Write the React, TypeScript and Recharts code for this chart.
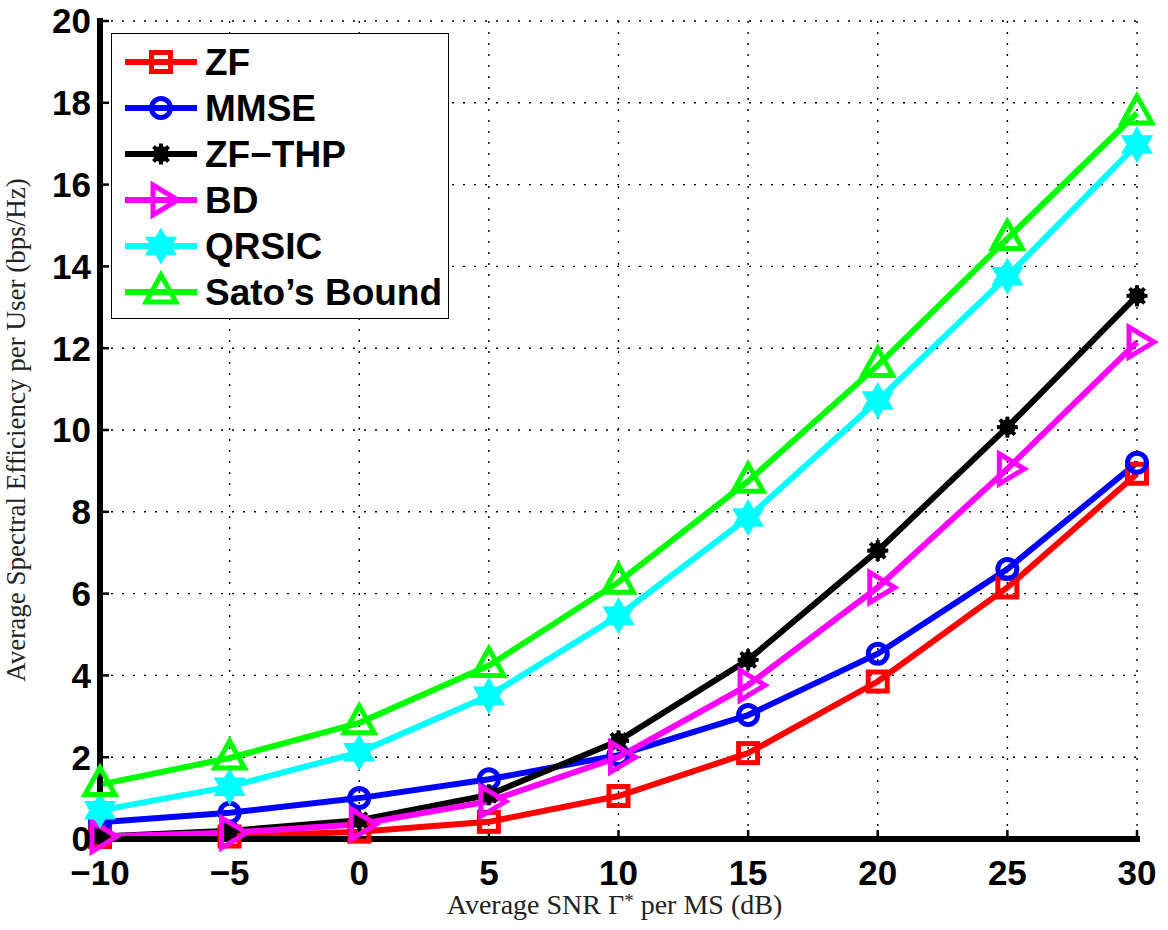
import React from "react";
import {
  LineChart, Line, XAxis, YAxis, CartesianGrid, Legend, Label,
} from "recharts";

// SNR points (dB)
const snr = [-10, -5, 0, 5, 10, 15, 20, 25, 30];

// spectral efficiency per user (bps/Hz)
const zf = [0.05, 0.06, 0.18, 0.42, 1.05, 2.1, 3.85, 6.15, 8.93];
const mmse = [0.41, 0.64, 1.0, 1.46, 2.05, 3.03, 4.53, 6.6, 9.2];
const zfThp = [0.06, 0.2, 0.46, 1.08, 2.4, 4.38, 7.05, 10.07, 13.28];
const bd = [0.06, 0.15, 0.36, 0.92, 2.0, 3.76, 6.15, 9.05, 12.15];
const qrsic = [0.7, 1.28, 2.12, 3.5, 5.46, 7.86, 10.72, 13.76, 16.98];
const sato = [1.33, 1.98, 2.84, 4.24, 6.28, 8.75, 11.58, 14.68, 17.75];

const xTicks = [-10, -5, 0, 5, 10, 15, 20, 25, 30];
const yTicks = [0, 2, 4, 6, 8, 10, 12, 14, 16, 18, 20];

type MarkerKind = "square" | "circle" | "asterisk" | "right" | "hexagram" | "up";

const series: { key: string; name: string; color: string; marker: MarkerKind; values: number[] }[] = [
  { key: "zf", name: "ZF", color: "#ff0000", marker: "square", values: zf },
  { key: "mmse", name: "MMSE", color: "#0000ff", marker: "circle", values: mmse },
  { key: "zfThp", name: "ZF\u2212THP", color: "#000000", marker: "asterisk", values: zfThp },
  { key: "bd", name: "BD", color: "#ff00ff", marker: "right", values: bd },
  { key: "qrsic", name: "QRSIC", color: "#00ffff", marker: "hexagram", values: qrsic },
  { key: "sato", name: "Sato\u2019s Bound", color: "#00ff00", marker: "up", values: sato },
];

const data = snr.map((x, i) => {
  const row: Record<string, number> = { snr: x };
  series.forEach((s) => (row[s.key] = s.values[i]));
  return row;
});

function hexagramPoints(cx: number, cy: number, R: number) {
  const r = R / Math.sqrt(3);
  const pts: string[] = [];
  for (let i = 0; i < 12; i++) {
    const a = -Math.PI / 2 + (i * Math.PI) / 6;
    const rad = i % 2 === 0 ? R : r;
    pts.push(`${cx + rad * Math.cos(a)},${cy + rad * Math.sin(a)}`);
  }
  return pts.join(" ");
}

function Marker({ kind, color, cx, cy }: { kind: MarkerKind; color: string; cx: number; cy: number }) {
  const sw = 5;
  switch (kind) {
    case "square":
      return <rect x={cx - 9.5} y={cy - 9.5} width={19} height={19} fill="none" stroke={color} strokeWidth={sw} />;
    case "circle":
      return <circle cx={cx} cy={cy} r={9.5} fill="none" stroke={color} strokeWidth={sw} />;
    case "asterisk":
      return (
        <g stroke={color} strokeWidth={4}>
          <circle cx={cx} cy={cy} r={8} fill={color} stroke="none" />
          <line x1={cx - 10.5} y1={cy} x2={cx + 10.5} y2={cy} />
          <line x1={cx} y1={cy - 10.5} x2={cx} y2={cy + 10.5} />
          <line x1={cx - 7.5} y1={cy - 7.5} x2={cx + 7.5} y2={cy + 7.5} />
          <line x1={cx - 7.5} y1={cy + 7.5} x2={cx + 7.5} y2={cy - 7.5} />
        </g>
      );
    case "right":
      return (
        <polygon
          points={`${cx - 8},${cy - 15} ${cx - 8},${cy + 15} ${cx + 17},${cy}`}
          fill="none" stroke={color} strokeWidth={sw} strokeLinejoin="miter"
        />
      );
    case "hexagram":
      return <polygon points={hexagramPoints(cx, cy, 16)} fill={color} stroke={color} strokeWidth={2.5} />;
    case "up":
      return (
        <polygon
          points={`${cx},${cy - 17} ${cx - 15},${cy + 10} ${cx + 15},${cy + 10}`}
          fill="none" stroke={color} strokeWidth={sw} strokeLinejoin="miter"
        />
      );
  }
}

const fmtTick = (v: number) => (v < 0 ? `\u2212${Math.abs(v)}` : `${v}`);

const tickFont = { fontFamily: "'Liberation Sans', Arial, sans-serif", fontWeight: 700, fontSize: 35, fill: "#000" };

function LegendBox() {
  const rowY = [29, 75, 121, 167, 213, 259];
  return (
    <svg width={338} height={286} style={{ display: "block" }}>
      <rect x={0.5} y={0.5} width={337} height={285} fill="#fff" stroke="#000" strokeWidth={1} />
      {series.map((s, i) => (
        <g key={s.key}>
          <line x1={14} y1={rowY[i]} x2={86} y2={rowY[i]} stroke={s.color} strokeWidth={6} />
          <Marker kind={s.marker} color={s.color} cx={50} cy={rowY[i]} />
          <text
            x={94} y={rowY[i]} dominantBaseline="central"
            fontFamily="'Liberation Sans', Arial, sans-serif" fontWeight={700} fontSize={37} fill="#000"
          >
            {s.name}
          </text>
        </g>
      ))}
    </svg>
  );
}

const serif = "'Liberation Serif', 'Times New Roman', serif";
const frame = { stroke: "#000", strokeWidth: 6, strokeLinecap: "square" as const };
const tickStroke = { stroke: "#000", strokeWidth: 2.5 };

export default function App() {
  return (
    <div style={{ position: "absolute", left: 0, top: 0, background: "#fff" }}>
      <LineChart width={1168} height={930} data={data} margin={{ top: 21, right: 31, bottom: 0, left: 0 }}>
        <CartesianGrid stroke="#000" strokeWidth={1.4} strokeDasharray="2 9" />
        <XAxis
          dataKey="snr" type="number" domain={[-10, 30]} ticks={xTicks} tickFormatter={fmtTick}
          height={91} tick={tickFont} tickSize={-9} tickMargin={30}
          axisLine={frame} tickLine={tickStroke}
        >
          <Label
            content={(props: any) => {
              const vb = props.viewBox;
              return (
                <text x={vb.x + vb.width / 2 - 4} y={vb.y + 75} textAnchor="middle" fontFamily={serif} fontSize={28} fill="#222">
                  Average SNR {"\u0393"}
                  <tspan dy={-7} fontSize={19}>*</tspan>
                  <tspan dy={7}> per MS (dB)</tspan>
                </text>
              );
            }}
          />
        </XAxis>
        <XAxis
          xAxisId="top" orientation="top" dataKey="snr" type="number" domain={[-10, 30]} ticks={xTicks}
          height={0} tick={false} tickSize={-9} axisLine={frame} tickLine={tickStroke}
        />
        <YAxis
          type="number" domain={[0, 20]} ticks={yTicks} width={100} tick={tickFont}
          tickSize={-9} tickMargin={18} axisLine={frame} tickLine={tickStroke}
        >
          <Label
            content={(props: any) => {
              const vb = props.viewBox;
              const cy = vb.y + vb.height / 2;
              return (
                <text
                  x={25} y={cy} textAnchor="middle"
                  transform={`rotate(-90 25 ${cy})`} fontFamily={serif} fontSize={27} fill="#222"
                >
                  Average Spectral Efficiency per User (bps/Hz)
                </text>
              );
            }}
          />
        </YAxis>
        <YAxis
          yAxisId="right" orientation="right" type="number" domain={[0, 20]} ticks={yTicks}
          width={0} tick={false} tickSize={-9} axisLine={frame} tickLine={tickStroke}
        />
        {series.map((s) => (
          <Line
            key={s.key}
            dataKey={s.key}
            name={s.name}
            stroke={s.color}
            strokeWidth={6}
            isAnimationActive={false}
            activeDot={false}
            dot={(p: any) => (
              <g key={`${s.key}-${p.index}`}>
                <Marker kind={s.marker} color={s.color} cx={p.cx} cy={p.cy} />
              </g>
            )}
          />
        ))}
        <Legend
          layout="vertical" align="center" verticalAlign="middle"
          wrapperStyle={{ position: "absolute", left: 111, top: 33, width: 338, height: 286 }}
          content={() => <LegendBox />}
        />
      </LineChart>
    </div>
  );
}
